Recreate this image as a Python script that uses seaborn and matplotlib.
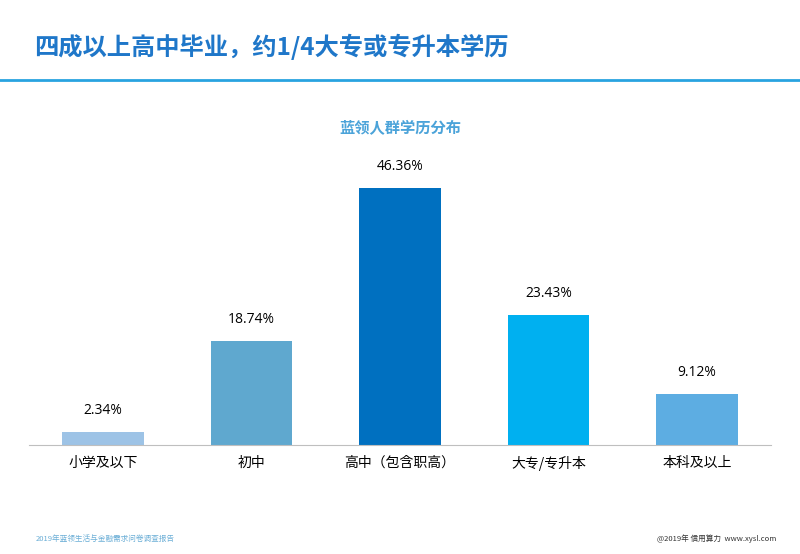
import matplotlib.pyplot as plt
import seaborn as sns
import pandas as pd

plt.rcParams['font.family'] = ['Noto Sans CJK SC', 'Noto Sans CJK JP', 'DejaVu Sans']
plt.rcParams['axes.unicode_minus'] = False

categories = ['小学及以下', '初中', '高中（包含职高）', '大专/专升本', '本科及以上']
values = [2.34, 18.74, 46.36, 23.43, 9.12]
colors = ['#9DC3E6', '#5FA8CF', '#0070C0', '#00B0F0', '#5DADE2']

df = pd.DataFrame({'cat': categories, 'val': values})

fig = plt.figure(figsize=(8, 5.54), dpi=100)
fig.text(0.042, 0.915, '四成以上高中毕业，约1/4大专或专升本学历', fontsize=17.5,
         fontweight='bold', color='#1F77C9', va='center')
fig.add_artist(plt.Line2D([0, 1], [0.855, 0.855], color='#29A3E0', lw=2))
fig.text(0.5, 0.77, '蓝领人群学历分布', fontsize=11, fontweight='bold',
         color='#4BA3D9', ha='center', va='center')

ax = fig.add_axes([0.036, 0.197, 0.928, 0.5])
sns.barplot(data=df, x='cat', y='val', hue='cat', palette=colors,
            legend=False, width=0.55, saturation=1, ax=ax)
for i, v in enumerate(values):
    ax.text(i, v + 2.5, f'{v:.2f}%', ha='center', va='bottom', fontsize=10,
            fontfamily=['Open Sans', 'DejaVu Sans'])
ax.set_ylim(0, 50)
ax.set_xlabel('')
ax.set_ylabel('')
ax.set_yticks([])
for s in ['top', 'right', 'left']:
    ax.spines[s].set_visible(False)
ax.spines['bottom'].set_color('#BFBFBF')
ax.tick_params(axis='x', length=0, labelsize=10, pad=8)

fig.text(0.045, 0.028, '2019年蓝领生活与金融需求问卷调查报告', fontsize=5.5,
         color='#6BAED6', va='center')
fig.text(0.97, 0.028, '@2019年 信用算力  www.xysl.com', fontsize=5.5,
         color='#333333', ha='right', va='center')

fig.savefig('out.png', dpi=100)
